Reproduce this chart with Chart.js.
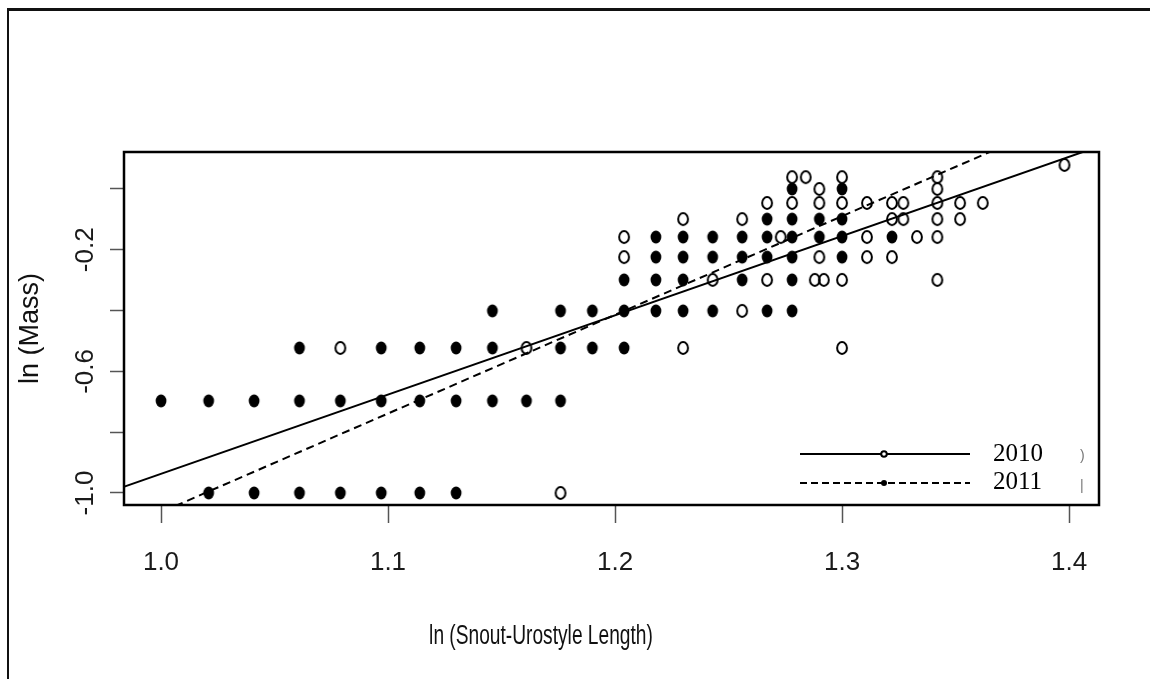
<!DOCTYPE html>
<html>
<head>
<meta charset="utf-8">
<script src="https://cdn.jsdelivr.net/npm/chart.js@4/dist/chart.umd.min.js"></script>
<style>
  body { margin: 0; background: #fff; }
  #wrap { width: 1150px; height: 679px; }
</style>
</head>
<body>
<div id="wrap"><canvas id="massChart" width="1150" height="679"></canvas></div>
<script>
// ln(SUL) / ln(Mass) values, one entry per point
const x2010 = [1.079, 1.161, 1.176, 1.204, 1.204, 1.230, 1.230, 1.243, 1.256, 1.256,
  1.267, 1.267, 1.273, 1.278, 1.278, 1.284, 1.290, 1.290, 1.290, 1.288, 1.292,
  1.300, 1.300, 1.300, 1.300, 1.311, 1.311, 1.311, 1.322, 1.322, 1.322, 1.327, 1.327,
  1.333, 1.342, 1.342, 1.342, 1.342, 1.342, 1.342, 1.352, 1.352, 1.362, 1.398];
const y2010 = [-0.523, -0.523, -1.0, -0.158, -0.224, -0.099, -0.523, -0.299, -0.099, -0.401,
  -0.046, -0.299, -0.158, 0.039, -0.046, 0.039, 0.0, -0.046, -0.224, -0.299, -0.299,
  0.039, -0.046, -0.299, -0.523, -0.046, -0.158, -0.224, -0.046, -0.099, -0.224, -0.046, -0.099,
  -0.158, 0.039, 0.0, -0.046, -0.099, -0.158, -0.299, -0.046, -0.099, -0.046, 0.079];

const x2011 = [1.000, 1.021, 1.021, 1.041, 1.041, 1.061, 1.061, 1.061, 1.079, 1.079,
  1.097, 1.097, 1.097, 1.114, 1.114, 1.114, 1.130, 1.130, 1.130, 1.146, 1.146, 1.146,
  1.161, 1.176, 1.176, 1.176, 1.190, 1.190, 1.204, 1.204, 1.204,
  1.218, 1.218, 1.218, 1.218, 1.230, 1.230, 1.230, 1.230, 1.243, 1.243, 1.243,
  1.256, 1.256, 1.256, 1.267, 1.267, 1.267, 1.267,
  1.278, 1.278, 1.278, 1.278, 1.278, 1.278, 1.290, 1.290,
  1.300, 1.300, 1.300, 1.300, 1.322];
const y2011 = [-0.697, -0.697, -1.0, -0.697, -1.0, -0.523, -0.697, -1.0, -0.697, -1.0,
  -0.523, -0.697, -1.0, -0.523, -0.697, -1.0, -0.523, -0.697, -1.0, -0.401, -0.523, -0.697,
  -0.697, -0.401, -0.523, -0.697, -0.401, -0.523, -0.299, -0.401, -0.523,
  -0.158, -0.224, -0.299, -0.401, -0.158, -0.224, -0.299, -0.401, -0.158, -0.224, -0.401,
  -0.158, -0.224, -0.299, -0.099, -0.158, -0.224, -0.401,
  0.0, -0.099, -0.158, -0.224, -0.299, -0.401, -0.099, -0.158,
  0.0, -0.099, -0.158, -0.224, -0.158];

// regression lines (abline), end points read at the plot edges
const fitX = [0.98, 1.42];
const fit2010Y = [-0.989, 0.158];
const fit2011Y = [-1.128, 0.300];

const seriesNames = ["2010", "2011"];
const xTicks = [1.0, 1.1, 1.2, 1.3, 1.4];
const yTicks = [-1.0, -0.8, -0.6, -0.4, -0.2, 0.0];
const yTickLabels = ["-1.0", "", "-0.6", "", "-0.2", ""];

const SANS = "'Liberation Sans', Arial, sans-serif";

function toPoints(xs, ys) {
  return xs.map((x, i) => ({ x: x, y: ys[i] }));
}

// the original picture is squeezed sideways, so R's circles come out slightly tall
function marker(filled) {
  const c = document.createElement("canvas");
  c.width = 16;
  c.height = 18;
  const g = c.getContext("2d");
  g.beginPath();
  if (filled) {
    g.ellipse(8, 9, 5.4, 6.4, 0, 0, 2 * Math.PI);
    g.fillStyle = "#000";
    g.fill();
  } else {
    g.ellipse(8, 9, 4.9, 5.9, 0, 0, 2 * Math.PI);
    g.lineWidth = 2;
    g.strokeStyle = "#000";
    g.stroke();
  }
  return c;
}

const framePlugin = {
  id: "frame",
  beforeDraw(chart) {
    const ctx = chart.ctx;
    ctx.save();
    ctx.fillStyle = "#fff";
    ctx.fillRect(0, 0, chart.width, chart.height);
    ctx.strokeStyle = "#111";
    ctx.lineWidth = 3;
    ctx.beginPath();
    ctx.moveTo(7, 9.5);
    ctx.lineTo(chart.width, 9.5);
    ctx.stroke();
    ctx.lineWidth = 2;
    ctx.beginPath();
    ctx.moveTo(8, 9);
    ctx.lineTo(8, chart.height);
    ctx.stroke();
    ctx.restore();
  },
  afterDraw(chart) {
    const ctx = chart.ctx;
    const a = chart.chartArea;
    ctx.save();
    ctx.strokeStyle = "#000";
    ctx.lineWidth = 2.5;
    ctx.strokeRect(a.left, a.top, a.right - a.left, a.bottom - a.top);

    // x axis title, narrowed like the source image
    ctx.save();
    ctx.fillStyle = "#111";
    ctx.font = "27px " + SANS;
    ctx.textAlign = "center";
    ctx.textBaseline = "middle";
    ctx.translate(541, 637);
    ctx.scale(0.71, 1);
    ctx.fillText("ln (Snout-Urostyle Length)", 0, 0);
    ctx.restore();

    // legend
    const lx0 = 800, lx1 = 970, mid = 884;
    const rows = [454, 483];
    ctx.lineWidth = 2;
    ctx.beginPath();
    ctx.moveTo(lx0, rows[0]);
    ctx.lineTo(lx1, rows[0]);
    ctx.stroke();
    ctx.setLineDash([7, 4]);
    ctx.beginPath();
    ctx.moveTo(lx0, rows[1]);
    ctx.lineTo(lx1, rows[1]);
    ctx.stroke();
    ctx.setLineDash([]);
    ctx.fillStyle = "#fff";
    ctx.beginPath();
    ctx.arc(mid, rows[0], 2.8, 0, 2 * Math.PI);
    ctx.fill();
    ctx.stroke();
    ctx.fillStyle = "#000";
    ctx.beginPath();
    ctx.arc(mid, rows[1], 3, 0, 2 * Math.PI);
    ctx.fill();
    ctx.font = "25px 'Liberation Serif', 'Times New Roman', serif";
    ctx.textAlign = "left";
    ctx.textBaseline = "middle";
    ctx.fillText(seriesNames[0], 993, rows[0]);
    ctx.fillText(seriesNames[1], 993, rows[1] - 1);
    ctx.fillStyle = "#777";
    ctx.font = "14px " + SANS;
    ctx.fillText(")", 1080, rows[0] + 2);
    ctx.fillText("|", 1080, rows[1] + 3);
    ctx.restore();
  },
};

const ctx = document.getElementById("massChart").getContext("2d");
const massChart = new Chart(ctx, {
  type: "scatter",
  data: {
    datasets: [
      {
        label: "2010 fit",
        type: "line",
        data: toPoints(fitX, fit2010Y),
        borderColor: "#000",
        borderWidth: 2,
        pointRadius: 0,
        order: 0,
      },
      {
        label: "2011 fit",
        type: "line",
        data: toPoints(fitX, fit2011Y),
        borderColor: "#000",
        borderWidth: 2,
        borderDash: [8, 5],
        pointRadius: 0,
        order: 0,
      },
      {
        label: seriesNames[0],
        data: toPoints(x2010, y2010),
        pointStyle: marker(false),
        pointRadius: 5,
        order: 1,
      },
      {
        label: seriesNames[1],
        data: toPoints(x2011, y2011),
        pointStyle: marker(true),
        pointRadius: 5,
        order: 1,
      },
    ],
  },
  options: {
    responsive: false,
    animation: false,
    events: [],
    layout: { padding: { top: 152, right: 51, left: 0, bottom: 0 } },
    plugins: { legend: { display: false }, tooltip: { enabled: false } },
    scales: {
      x: {
        type: "linear",
        min: 0.9837,
        max: 1.4132,
        afterBuildTicks: function (scale) {
          scale.ticks = xTicks.map((v) => ({ value: v }));
        },
        afterFit: function (scale) {
          scale.height = 174;
        },
        border: { display: false },
        grid: {
          drawOnChartArea: false,
          drawTicks: true,
          tickLength: 18,
          tickColor: "#555",
          tickWidth: 1.5,
        },
        ticks: {
          autoSkip: false,
          maxRotation: 0,
          padding: 24,
          color: "#1a1a1a",
          font: { family: SANS, size: 26 },
          callback: (v) => v.toFixed(1),
        },
      },
      y: {
        type: "linear",
        min: -1.0395,
        max: 0.1217,
        afterBuildTicks: function (scale) {
          scale.ticks = yTicks.map((v) => ({ value: v }));
        },
        afterFit: function (scale) {
          scale.width = 124;
        },
        border: { display: false },
        grid: {
          drawOnChartArea: false,
          drawTicks: true,
          tickLength: 14,
          tickColor: "#555",
          tickWidth: 1.5,
        },
        ticks: {
          autoSkip: false,
          minRotation: 90,
          maxRotation: 90,
          crossAlign: "center",
          padding: 2,
          color: "#1a1a1a",
          font: { family: SANS, size: 26 },
          callback: function (v, i) {
            return yTickLabels[i];
          },
        },
        title: {
          display: true,
          text: "ln (Mass)",
          color: "#111",
          font: { family: SANS, size: 27 },
          padding: { top: 14, bottom: 0 },
        },
      },
    },
  },
  plugins: [framePlugin],
});
</script>
</body>
</html>
